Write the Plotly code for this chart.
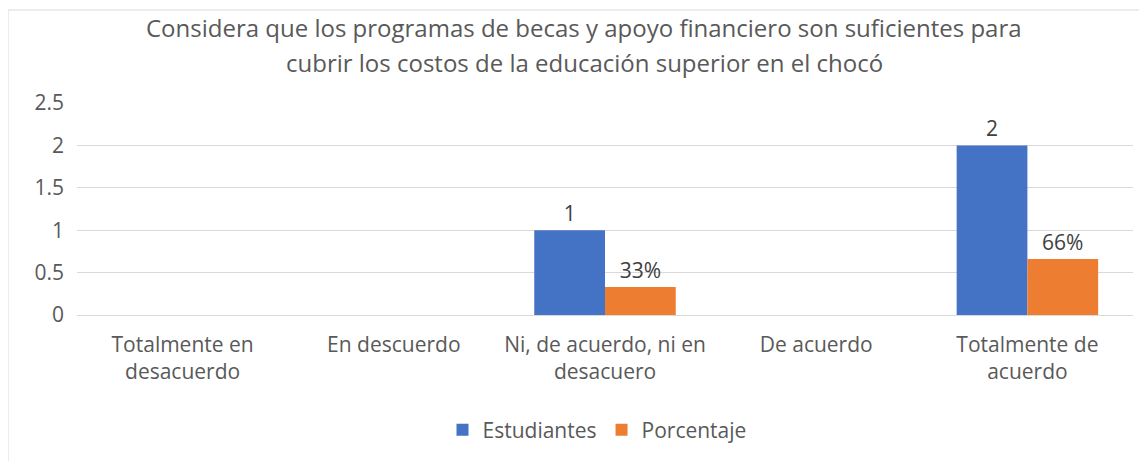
import plotly.graph_objects as go

categories = ["Totalmente en<br>desacuerdo", "En descuerdo", "Ni, de acuerdo, ni en<br>desacuero",
              "De acuerdo", "Totalmente de<br>acuerdo"]
estudiantes = [0, 0, 1, 0, 2]
porcentaje = [0, 0, 0.33, 0, 0.66]
estudiantes_labels = ["", "", "1", "", "2"]
porcentaje_labels = ["", "", "33%", "", "66%"]
y_ticks = [0, 0.5, 1, 1.5, 2, 2.5]
y_ticktext = ["0", "0.5", "1", "1.5", "2", "2.5"]

FONT = "Open Sans"
GRAY = "#595959"
SZ = 21

# page body has an 8px margin, so the figure is 8px smaller than the window
W, H = 1139, 453
L, R, T, B = 69, 14, 95, 146
pw, ph = W - L - R, H - T - B
# reference-picture coordinates of plot area origin
X0, Y0 = 77, 315

fig = go.Figure()
fig.add_trace(go.Bar(x=categories, y=estudiantes, name="Estudiantes", marker_color="#4472C4",
                     marker_line_width=0,
                     text=estudiantes_labels, textposition="outside", cliponaxis=False,
                     textfont=dict(size=SZ, color="#404040", family=FONT)))
fig.add_trace(go.Bar(x=categories, y=porcentaje, name="Porcentaje", marker_color="#ED7D31",
                     marker_line_width=0,
                     text=porcentaje_labels, textposition="outside", cliponaxis=False,
                     textfont=dict(size=SZ, color="#404040", family=FONT)))

fig.update_layout(
    width=W, height=H,
    margin=dict(l=L, r=R, t=T, b=B, autoexpand=False),
    paper_bgcolor="white", plot_bgcolor="white",
    barmode="group", bargap=0.33, bargroupgap=0,
    font=dict(family=FONT, color=GRAY, size=SZ),
    showlegend=True,
    legend=dict(orientation="h", x=(597 - X0) / pw, xanchor="center", y=(Y0 - 430) / ph,
                yanchor="middle", font=dict(size=SZ, color=GRAY, family=FONT),
                itemwidth=30, traceorder="normal"),
    xaxis=dict(showgrid=False, showline=False, ticks="", automargin=False,
               tickfont=dict(size=SZ, color=GRAY), ticklabelstandoff=15),
    yaxis=dict(range=[0, 2.5], tickvals=y_ticks, ticktext=y_ticktext, showgrid=True,
               gridcolor="#D9D9D9", gridwidth=1, zeroline=True, zerolinecolor="#D9D9D9",
               zerolinewidth=1, showline=False, ticks="", automargin=False,
               tickfont=dict(size=SZ, color=GRAY), ticklabelstandoff=12),
    annotations=[
        dict(text="Considera que los programas de becas y apoyo financiero son suficientes para",
             xref="paper", yref="paper", x=(584 - X0) / pw, y=(Y0 - 28) / ph, xanchor="center",
             yanchor="middle", showarrow=False, font=dict(size=24, color=GRAY, family=FONT)),
        dict(text="cubrir los costos de la educación superior en el chocó",
             xref="paper", yref="paper", x=(584 - X0) / pw, y=(Y0 - 62) / ph, xanchor="center",
             yanchor="middle", showarrow=False, font=dict(size=24, color=GRAY, family=FONT)),
    ],
    shapes=[dict(type="rect", xref="paper", yref="paper",
                 x0=(8 - X0) / pw, x1=(1147 + 20 - X0) / pw, y0=(Y0 - 461 - 20) / ph,
                 y1=(Y0 - 10) / ph,
                 line=dict(color="#D9D9D9", width=1), fillcolor="rgba(0,0,0,0)", layer="below")],
)

fig.write_html("out.html")
